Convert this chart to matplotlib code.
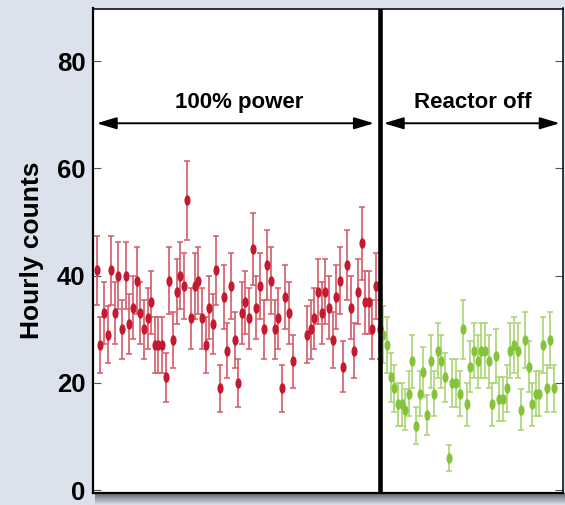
import numpy as np
import matplotlib
matplotlib.use("Agg")
import matplotlib.pyplot as plt
from matplotlib.path import Path

plt.rcParams['font.family'] = ['Liberation Sans', 'DejaVu Sans']
plt.rcParams['font.weight'] = 'bold'

# Hourly counts, reactor at 100% power (NaN = missing hours)
power_counts = [41, 27, 33, 29, 41, 33, 40, 30, 40, 31,
                34, 39, 33, 30, 32, 35, 27, 27, 27, 21,
                39, 28, 37, 40, 38, 54, 32, 38, 39, 32,
                27, 34, 31, 41, 19, 36, 26, 38, 28, 20,
                33, 35, 32, 45, 34, 38, 30, 42, 39, 30,
                32, 19, 36, 33, 24, np.nan, np.nan, np.nan,
                29, 30, 32, 37, 33, 37, 34, 28, 36, 39,
                23, 42, 34, 26, 37, 46, 35, 35, 30, 38, 30]
# Hourly counts, reactor off
off_counts = [29, 27, 21, 19, 16, 16, 15, 18, 24, 12,
              18, 22, 14, 24, 18, 26, 24, 21, 6, 20,
              20, 18, 30, 16, 23, 26, 24, 26, 26, 24,
              16, 25, 17, 17, 19, 26, 27, 26, 15, 28,
              23, 16, 18, 18, 27, 19, 28, 19]
y_ticks = [0, 20, 40, 60, 80]
labels = ["100% power", "Reactor off"]

bg = '#dce2eb'
red, red_err = '#c41a30', '#d55a6a'
green, green_err = '#86c33c', '#a9d472'

fig = plt.figure(figsize=(5.65, 5.05), dpi=100, facecolor=bg)

# drop shadow under the frame
sh = fig.add_axes([95 / 565, 0, 470 / 565, 12.5 / 505], zorder=0)
grad = np.linspace(0, 1, 50).reshape(-1, 1)
cmap = matplotlib.colors.LinearSegmentedColormap.from_list('sh', ['#545a68', bg])
sh.imshow(grad, aspect='auto', cmap=cmap, extent=[0, 1, 0, 1], origin='upper')
sh.axis('off')

ax = fig.add_axes([93 / 565, 12.5 / 505, 470 / 565, 484 / 505], zorder=1)
ax.set_facecolor('white')

circ = Path.unit_circle()
ellipse = Path(circ.vertices * [0.58, 1.0], circ.codes)

n_pow = len(power_counts)
x_pow = np.arange(n_pow)
x_off = np.arange(n_pow, n_pow + len(off_counts))
y_pow = np.array(power_counts, dtype=float)
y_off = np.array(off_counts, dtype=float)

for x, y, c, ce in [(x_pow, y_pow, red, red_err), (x_off, y_off, green, green_err)]:
    ok = ~np.isnan(y)
    ax.errorbar(x[ok], y[ok], yerr=np.sqrt(y[ok]), fmt='none', ecolor=ce,
                elinewidth=1.2, capsize=2.2, capthick=1.1, zorder=2)
    ax.plot(x[ok], y[ok], ls='none', marker=ellipse, ms=7.6, color=c,
            mew=0, zorder=3)

# reactor switched off
ax.axvline(n_pow - 1, color='black', lw=3.3, zorder=4)

ax.set_xlim(-1.02, 128.5)
ax.set_ylim(-0.45, 89.8)
ax.set_xticks([])
ax.set_yticks(y_ticks)
ax.tick_params(axis='y', direction='in', length=6, width=0.8, color='#555555',
               labelsize=18.5, pad=5.5, right=True)
for lab in ax.get_yticklabels():
    lab.set_fontweight('bold')
for side in ['left', 'bottom']:
    ax.spines[side].set_linewidth(1.6)
for side in ['top', 'right']:
    ax.spines[side].set_linewidth(1.1)

fig.text(32 / 565, 1 - 250 / 505, "Hourly counts", rotation=90, ha='center',
         va='center', fontsize=19, fontweight='bold')

arrow = dict(arrowstyle='<|-|>,head_length=0.4,head_width=0.12', color='black',
             lw=1.4, shrinkA=0, shrinkB=0, mutation_scale=30)
ax.annotate('', xy=(76.4, 68.4), xytext=(0, 68.4), arrowprops=arrow)
ax.annotate('', xy=(127.6, 68.4), xytext=(79.1, 68.4), arrowprops=arrow)
ax.text(39.2, 72.2, labels[0], ha='center', va='center', fontsize=16, fontweight='bold')
ax.text(103.7, 72.2, labels[1], ha='center', va='center', fontsize=16, fontweight='bold')

fig.savefig('out.png', dpi=100, facecolor=bg)
